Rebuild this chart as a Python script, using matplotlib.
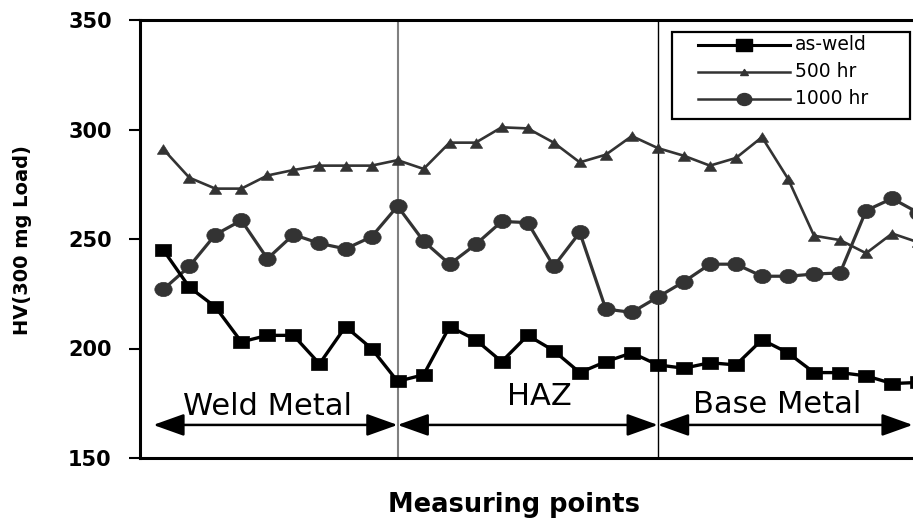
import matplotlib
matplotlib.use("Agg")
import matplotlib.pyplot as plt
import numpy as np
from matplotlib.path import Path
from matplotlib.lines import Line2D
from matplotlib.patches import Rectangle, FancyArrowPatch, ArrowStyle

# ---- data -------------------------------------------------------------
series_names = ["as-weld", "500 hr", "1000 hr"]
as_weld = [245, 228, 219, 203, 206, 206, 193, 210, 200, 185,
           188, 210, 204, 194, 206, 199, 189, 194, 198, 192.5,
           191, 193.5, 192.5, 204, 198, 189, 189, 187.5, 184, 184.5]
hr_500 = [291, 278, 273, 273, 279, 281.5, 283.5, 283.5, 283.5, 286,
          282, 294, 294, 301, 300.5, 294, 285, 288.5, 297, 291.5,
          288, 283.5, 287, 296.5, 277.5, 251.5, 249.5, 243.5, 252.5, 248.5]
hr_1000 = [227, 237.5, 252, 258.5, 241, 252, 248, 245.5, 251, 265,
           249, 238.5, 247.5, 258, 257.5, 237.5, 253, 218, 216.5, 223.5,
           230.5, 238.5, 238.5, 233, 233, 234, 234.5, 263, 268.5, 262]
zone_labels = ["Weld Metal", "HAZ", "Base Metal"]
zone_bounds = [9, 19]          # measuring point index at each zone boundary
y_ticks = [150, 200, 250, 300, 350]

# ---- figure -------------------------------------------------------------
W, H = 913, 518
fig = plt.figure(figsize=(W / 100, H / 100), dpi=100)
fig.patch.set_facecolor("white")

def fx(px):
    return px / W

def fy(py):
    return 1 - py / H

ax_left, ax_top, ax_bottom = 139.5, 20, 458
ax = fig.add_axes([fx(ax_left), fy(ax_bottom), fx(W - ax_left), (ax_bottom - ax_top) / H])

step = 26.03
x0 = -(163.3 - ax_left) / step
ax.set_xlim(x0, x0 + (W - ax_left) / step)
ax.set_ylim(150, 350)

x = np.arange(len(as_weld))

# stretched marker shapes
sq = Path([(-1.33, -1), (1.33, -1), (1.33, 1), (-1.33, 1), (-1.33, -1)], closed=True)
uc = Path.unit_circle()
ell = Path(uc.vertices * np.array([1.22, 1.0]), uc.codes)
tri = Path([(0, 1), (-1.27, -1), (1.27, -1), (0, 1)], closed=True)

dark = "#333333"
ax.plot(x, as_weld, color="black", lw=2.4, marker=sq, ms=11.8,
        mfc="black", mec="black", mew=0.5, zorder=5)
ax.plot(x, hr_500, color=dark, lw=1.9, marker=tri, ms=8.8,
        mfc=dark, mec=dark, mew=0.5, zorder=4)
ax.plot(x, hr_1000, color=dark, lw=2.3, marker=ell, ms=12.5,
        mfc=dark, mec=dark, mew=0.5, zorder=4)

# zone boundaries
ax.axvline(zone_bounds[0], color="#808080", lw=1.5, zorder=2)
ax.axvline(zone_bounds[1], color="black", lw=1.0, zorder=2)

# zone arrows and names
arrow_y = 165.1
zone_edges = [-0.385, zone_bounds[0], zone_bounds[1], ax.get_xlim()[1] - 0.01]
style = ArrowStyle("<|-|>", head_length=19, head_width=6.8)
for a, b in zip(zone_edges[:-1], zone_edges[1:]):
    ax.add_patch(FancyArrowPatch((a, arrow_y), (b, arrow_y), arrowstyle=style,
                                 mutation_scale=1, color="black", lw=1.8,
                                 shrinkA=0, shrinkB=0, zorder=3))
label_pos = [(4.0, 169.6), (14.46, 174.2), (23.58, 170.7)]
for (lx, ly), name in zip(label_pos, zone_labels):
    ax.text(lx, ly, name, ha="center", va="baseline", fontsize=22,
            family="DejaVu Sans", color="black", zorder=6)

# axes styling
for side in ["left", "bottom", "top"]:
    ax.spines[side].set_linewidth(2.2)
    ax.spines[side].set_color("black")
ax.spines["right"].set_visible(False)
ax.set_xticks([])
ax.set_yticks(y_ticks)
ax.set_yticklabels([str(t) for t in y_ticks], fontweight="bold", fontsize=15)
ax.tick_params(axis="y", direction="out", length=8, width=1.5, pad=12)

fig.text(fx(22), fy(240), "HV(300 mg Load)", rotation=90, ha="center", va="center",
         fontweight="bold", fontsize=14)
fig.text(fx(514.5), fy(512), "Measuring points", ha="center", va="baseline",
         fontweight="bold", fontsize=18.5)

# legend
fig.add_artist(Rectangle((fx(672), fy(119)), (910 - 672) / W, (119 - 32) / H,
                         transform=fig.transFigure, facecolor="white",
                         edgecolor="black", lw=1.6, zorder=10))
leg_specs = [
    (series_names[0], "black", 2.2, sq, 11.5, 45),
    (series_names[1], dark, 1.8, tri, 5.5, 72),
    (series_names[2], dark, 1.8, ell, 10.5, 99),
]
for name, col, lw, mk, ms, py in leg_specs:
    fig.add_artist(Line2D([fx(698), fx(744), fx(790)], [fy(py)] * 3,
                          transform=fig.transFigure, color=col, lw=lw,
                          marker=mk, ms=ms, markevery=[1], mfc=col, mec=col,
                          zorder=11))
    fig.text(fx(795), fy(py), name, ha="left", va="center", fontsize=13.5,
             color="black", zorder=12)

fig.savefig("out.png", dpi=100)
